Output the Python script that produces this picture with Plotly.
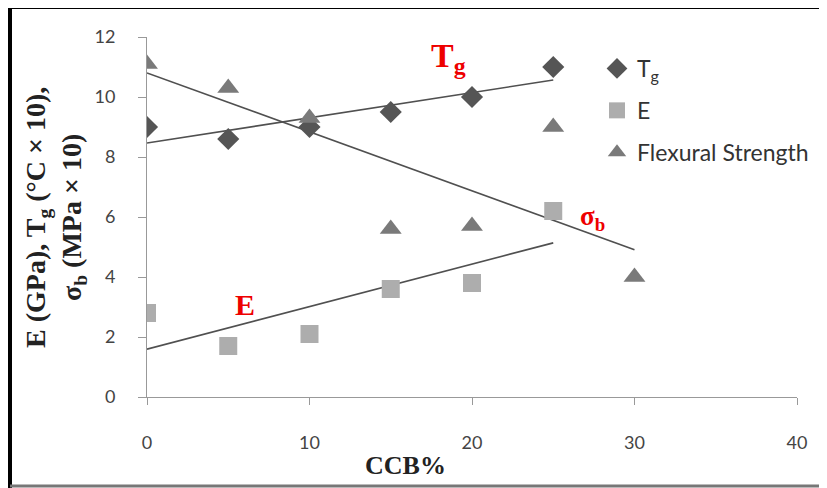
import numpy as np
import plotly.graph_objects as go

ccb_tg = [0, 5, 10, 15, 20, 25]
tg = [9.0, 8.6, 9.0, 9.5, 10.0, 11.0]
ccb_e = [0, 5, 10, 15, 20, 25]
e_mod = [2.8, 1.7, 2.1, 3.6, 3.8, 6.2]
ccb_fs = [0, 5, 10, 15, 20, 25, 30]
flex = [11.1, 10.3, 9.3, 5.6, 5.7, 9.0, 4.0]

OFF = 8  # page body margin
W, H = 827 - OFF, 488 - OFF
L, T = 147 - OFF, 37 - OFF
R = W - (797 - OFF)
B = H - (397 - OFF)

def fit(x, y):
    k, b = np.polyfit(x, y, 1)
    xs = np.array([min(x), max(x)], dtype=float)
    return xs, k * xs + b

fig = go.Figure()
for xs, ys in (fit(ccb_tg, tg), fit(ccb_e, e_mod), fit(ccb_fs, flex)):
    fig.add_trace(go.Scatter(x=xs, y=ys, mode="lines", showlegend=False,
                             line=dict(color="#505050", width=1.6), hoverinfo="skip"))

fig.add_trace(go.Scatter(x=ccb_tg, y=tg, mode="markers", name="T<sub>g</sub>", legendgroup="a",
                         marker=dict(symbol="diamond", size=17, color="#555555")))
fig.add_trace(go.Scatter(x=ccb_e, y=e_mod, mode="markers", name="E", legendgroup="b",
                         marker=dict(symbol="square", size=18, color="#adadad")))
fig.add_trace(go.Scatter(x=ccb_fs, y=flex, mode="markers", name="Flexural Strength", legendgroup="c",
                         marker=dict(symbol="triangle-up", size=19, color="#7a7a7a")))

tickfont = dict(family="Lato, Open Sans, sans-serif", size=18, color="#444444")
fig.update_xaxes(range=[0, 40], dtick=10, showgrid=False, zeroline=False,
                 showline=True, linecolor="#999999", linewidth=1,
                 ticks="outside", ticklen=7, tickcolor="#999999",
                 tickfont=tickfont, ticklabelstandoff=22, automargin=False)
fig.update_yaxes(range=[0, 12], dtick=2, showgrid=False, zeroline=False,
                 showline=True, linecolor="#999999", linewidth=1,
                 ticks="outside", ticklen=8, tickcolor="#999999",
                 tickfont=tickfont, ticklabelstandoff=19, automargin=False)

def px(xp):
    return (xp - OFF - L) / (W - L - R)

def py(yp):
    return (H - B - (yp - OFF)) / (H - T - B)

serif = "Liberation Serif, DejaVu Serif, serif"
anns = [
    dict(x=px(55), y=py(218), text="<b>E (GPa), T<sub>g</sub> (°C × 10),<br>σ<sub>b</sub> (MPa × 10)</b>",
         textangle=-90, font=dict(family=serif, size=28, color="#222222")),
    dict(x=px(405), y=py(465), text="<b>CCB%</b>",
         font=dict(family=serif, size=26, color="#222222")),
    dict(x=px(448), y=py(58), text="<b>T<sub>g</sub></b>",
         font=dict(family=serif, size=34, color="#ee0000")),
    dict(x=px(592), y=py(218), text="<b>σ<sub>b</sub></b>",
         font=dict(family=serif, size=27, color="#ee0000")),
    dict(x=px(245), y=py(304), text="<b>E</b>",
         font=dict(family=serif, size=30, color="#ee0000")),
]
for a in anns:
    a.update(xref="paper", yref="paper", showarrow=False, xanchor="center", yanchor="middle")
fig.update_layout(annotations=anns)

shapes = [
    dict(type="line", x0=px(10), x1=px(830), y0=py(7), y1=py(7), line=dict(color="black", width=4)),
    dict(type="line", x0=px(10), x1=px(10), y0=py(5), y1=py(490), line=dict(color="black", width=4)),
    dict(type="line", x0=px(10), x1=px(830), y0=py(486), y1=py(486), line=dict(color="#777777", width=3)),
]
for s in shapes:
    s.update(xref="paper", yref="paper")
fig.update_layout(shapes=shapes)

fig.update_layout(
    width=W, height=H, margin=dict(l=L, r=R, t=T, b=B, autoexpand=False),
    paper_bgcolor="white", plot_bgcolor="white",
    legend=dict(x=px(597), y=py(47), xanchor="left", yanchor="top",
                font=dict(family="Lato, Open Sans, sans-serif", size=23, color="#333333"),
                itemwidth=30, tracegroupgap=9, bgcolor="rgba(0,0,0,0)"),
)

fig.write_html("out.html")
